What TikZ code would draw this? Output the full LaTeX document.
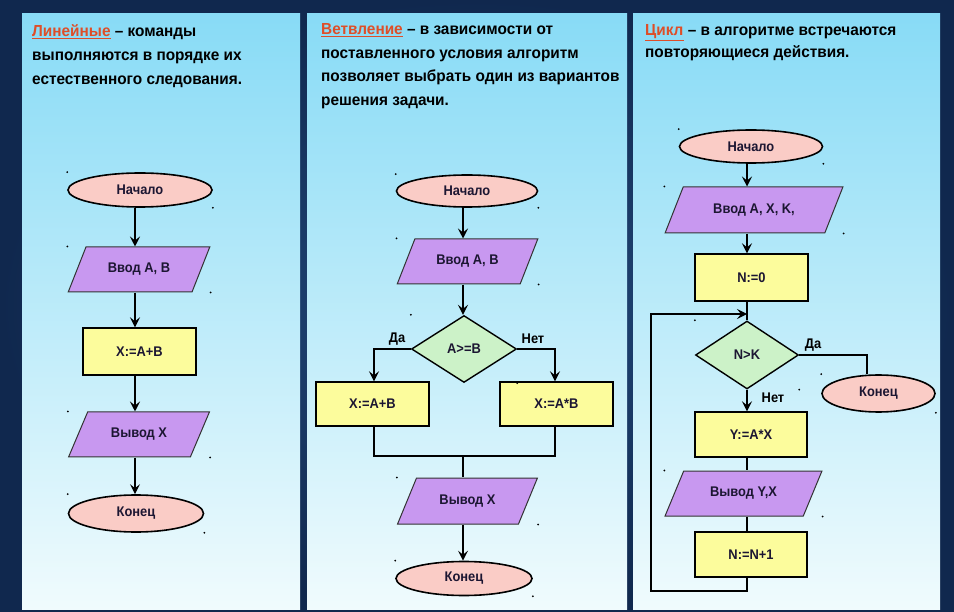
\documentclass[tikz,border=0pt]{standalone}
\usepackage{fontspec}
\setmainfont{Liberation Sans}
\newfontfamily\headfont[FakeStretch=0.96]{Liberation Sans}
\newfontfamily\boxfont[FakeStretch=0.92]{Liberation Sans}
\usetikzlibrary{shapes.geometric,arrows.meta,calc}

\definecolor{bgblue}{RGB}{34,72,122}
\definecolor{bgdark}{RGB}{16,40,78}
\definecolor{paneltop}{RGB}{136,219,246}
\definecolor{panelbot}{RGB}{240,251,253}
\definecolor{termfill}{RGB}{250,204,198}
\definecolor{iofill}{RGB}{200,152,240}
\definecolor{procfill}{RGB}{252,252,156}
\definecolor{decfill}{RGB}{204,242,200}
\definecolor{kwcol}{RGB}{222,78,40}
\definecolor{inktext}{RGB}{28,22,50}

% small selection dots at the bounding-box corners of a shape
\newcommand{\cornerdotsA}[1]{%
  \fill (#1.west |- #1.north) circle (1pt);
  \fill (#1.east |- #1.south) circle (1pt);}
\newcommand{\cornerdotsB}[1]{%
  \fill (#1.bottom left corner |- #1.top right corner) circle (1pt);
  \fill (#1.top right corner |- #1.bottom left corner) circle (1pt);}

\begin{document}
\begin{tikzpicture}[x=1pt,y=-1pt,
  every node/.style={font=\boxfont\bfseries\fontsize{14}{16}\selectfont, text=inktext},
  terminal/.style={ellipse, draw, line width=1.6pt, fill=termfill, inner sep=0pt},
  iobox/.style={trapezium, trapezium left angle=50, trapezium right angle=130,
    trapezium stretches=true, draw=black!80, line width=1pt, fill=iofill, inner sep=0pt},
  procbox/.style={rectangle, draw, line width=1.4pt, fill=procfill, inner sep=0pt},
  decision/.style={diamond, draw, line width=1.4pt, fill=decfill, inner sep=0pt},
  flow/.style={line width=1.3pt},
  arr/.style={flow, -{Stealth[length=10pt,width=10pt,inset=4pt]}},
  caption/.style={anchor=base west, inner sep=0pt,
    font=\headfont\bfseries\fontsize{16}{18}\selectfont, text=black},
  branch/.style={inner sep=0pt, text=black},
  panel/.style={top color=paneltop, bottom color=panelbot},
]
\useasboundingbox (0,0) rectangle (954,612);

% backdrop and the three panels
\shade[inner color=bgblue, outer color=bgdark] (0,0) rectangle (954,612);
\shade[panel] (22,14) rectangle (300,609);
\shade[panel] (307,14) rectangle (627,609);
\shade[panel] (633,14) rectangle (940,609);

% ---------- linear ----------
\node[caption] (la) at (32,37) {{\color{kwcol}\underline{Линейные}} – команды};
\node[caption] (lb) at (32,61) {выполняются в порядке их};
\node[caption] (lc) at (32,85) {естественного следования.};

\node[terminal, minimum width=144pt, minimum height=34pt] (l1) at (140,190) {Начало};
\node[iobox, minimum width=142pt, minimum height=45pt] (l2) at (139,269.5) {Ввод A, B};
\node[procbox, minimum width=113pt, minimum height=47pt] (l3) at (139.5,351.5) {X:=A+B};
\node[iobox, minimum width=142pt, minimum height=45pt] (l4) at (139,434.5) {Вывод X};
\node[terminal, minimum width=135pt, minimum height=37pt] (l5) at (136,513.5) {Конец};

\coordinate (lax) at (135,0);
\draw[arr] (l1.south -| lax) -- (l2.north -| lax);
\draw[arr] (l2.south -| lax) -- (l3.north -| lax);
\draw[arr] (l3.south -| lax) -- (l4.north -| lax);
\draw[arr] (l4.south -| lax) -- (l5.north -| lax);

\cornerdotsA{l1}\cornerdotsB{l2}\cornerdotsB{l4}\cornerdotsA{l5}

% ---------- branching ----------
\node[caption] (ba) at (321,35) {{\color{kwcol}\underline{Ветвление}} – в зависимости от};
\node[caption] (bb) at (321,59) {поставленного условия алгоритм};
\node[caption] (bc) at (321,82) {позволяет выбрать один из вариантов};
\node[caption] (bd) at (321,106) {решения задачи.};

\node[terminal, minimum width=141pt, minimum height=32pt] (b1) at (467,191) {Начало};
\node[iobox, minimum width=141pt, minimum height=45pt] (b2) at (467.5,261.5) {Ввод A, B};
\node[decision, minimum width=105pt, minimum height=67pt] (b3) at (464,349) {A>=B};
\node[procbox, minimum width=113pt, minimum height=44pt] (b4) at (372.5,404) {X:=A+B};
\node[procbox, minimum width=113pt, minimum height=44pt] (b5) at (556.5,404) {X:=A*B};
\node[iobox, minimum width=141pt, minimum height=46pt] (b6) at (467.5,501) {Вывод X};
\node[terminal, minimum width=136pt, minimum height=34pt] (b7) at (464,578.5) {Конец};
\node[branch] (bda) at (397,339) {Да};
\node[branch] (bnet) at (533,339) {Нет};

\coordinate (bax) at (463,0);
\coordinate (bl) at (374,0);
\coordinate (br) at (555,0);
\coordinate (bmerge) at (463,456);
\draw[arr] (b1.south -| bax) -- (b2.north -| bax);
\draw[arr] (b2.south -| bax) -- (b3.north -| bax);
\draw[arr] (b3.west) -| (b4.north -| bl);
\draw[arr] (b3.east) -| (b5.north -| br);
\draw[flow] (b4.south -| bl) |- (bmerge) -| (b5.south -| br);
\draw[flow] (bmerge) -- (b6.north -| bax);
\draw[arr] (b6.south -| bax) -- (b7.north -| bax);

\cornerdotsA{b1}\cornerdotsB{b2}\cornerdotsA{b3}\cornerdotsB{b6}\cornerdotsA{b7}

% ---------- loop ----------
\node[caption] (ca) at (645,36) {{\color{kwcol}\underline{Цикл}} – в алгоритме встречаются};
\node[caption] (cb) at (645,58) {повторяющиеся действия.};

\node[terminal, minimum width=143pt, minimum height=33pt] (c1) at (751,146.5) {Начало};
\node[iobox, minimum width=178pt, minimum height=46pt] (c2) at (754,210) {Ввод A, X, K,};
\node[procbox, minimum width=113pt, minimum height=47pt] (c3) at (751.5,277.5) {N:=0};
\node[decision, minimum width=103pt, minimum height=68pt] (c4) at (747,355) {N>K};
\node[terminal, minimum width=113pt, minimum height=37pt] (c5) at (878.5,393.5) {Конец};
\node[procbox, minimum width=112pt, minimum height=45pt] (c6) at (751,434.5) {Y:=A*X};
\node[iobox, minimum width=157pt, minimum height=45pt] (c7) at (743.5,493.5) {Вывод Y,X};
\node[procbox, minimum width=112pt, minimum height=45pt] (c8) at (751,554.5) {N:=N+1};
\node[branch] (cda) at (813,345) {Да};
\node[branch] (cnet) at (773,398) {Нет};

\coordinate (cax) at (747,0);
\coordinate (cr) at (867,0);
\coordinate (cin) at (747,314);
\coordinate (cloop) at (651,591);
\draw[arr] (c1.south -| cax) -- (c2.north -| cax);
\draw[arr] (c2.south -| cax) -- (c3.north -| cax);
\draw[flow] (c3.south -| cax) -- (c4.north);
\draw[flow] (c4.east) -| (c5.north -| cr);
\draw[arr] (c4.south) -- (c6.north -| cax);
\draw[flow] (c6.south -| cax) -- (c7.north -| cax);
\draw[flow] (c7.south -| cax) -- (c8.north -| cax);
\draw[arr] (c8.south -| cax) |- (cloop) |- (cin);

\cornerdotsA{c1}\cornerdotsB{c2}\cornerdotsA{c4}\cornerdotsA{c5}\cornerdotsB{c7}
\end{tikzpicture}
\end{document}
